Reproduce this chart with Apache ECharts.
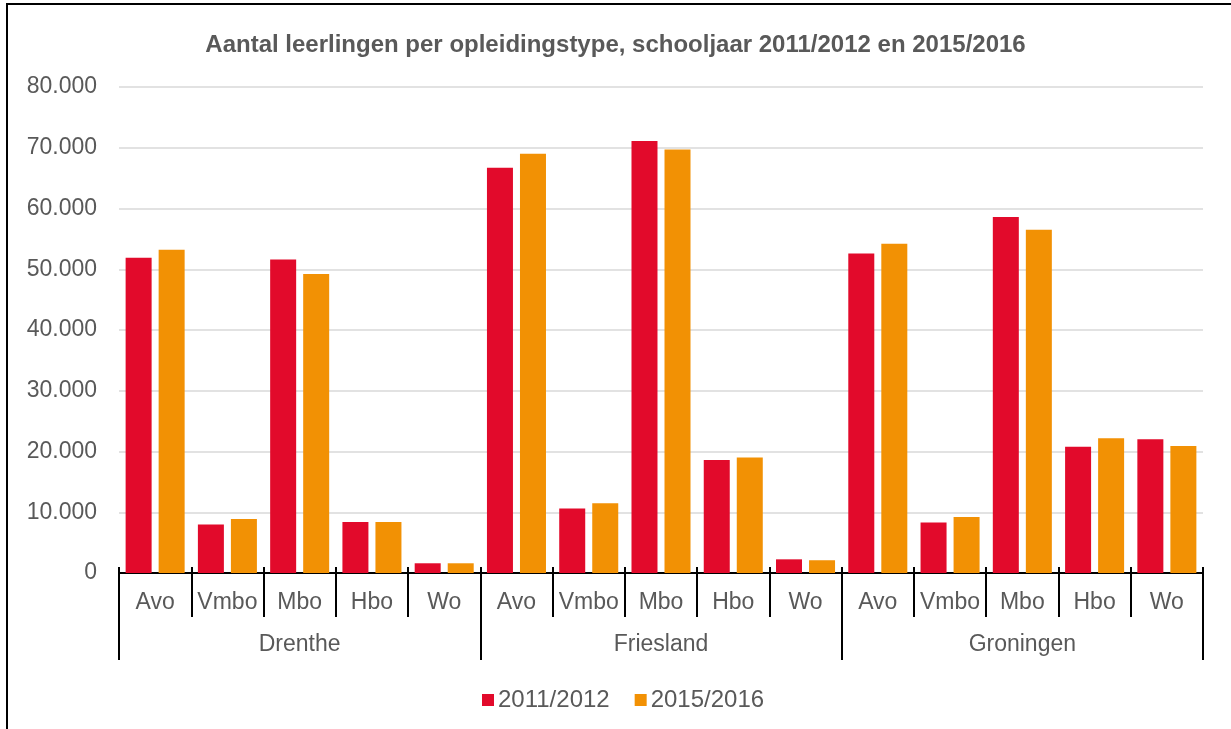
<!DOCTYPE html>
<html>
<head>
<meta charset="utf-8">
<script src="https://cdn.jsdelivr.net/npm/echarts@6/dist/echarts.min.js"></script>
<style>
html,body{margin:0;padding:0;background:#fff;}
#chart{width:1231px;height:729px;position:relative;}
#frame{position:absolute;left:6px;top:3px;width:1240px;height:740px;border-left:2px solid #000;border-top:2px solid #000;pointer-events:none;}
</style>
</head>
<body>
<div id="chart"></div>
<div id="frame"></div>
<script>
const titleText = 'Aantal leerlingen per opleidingstype, schooljaar 2011/2012 en 2015/2016';
const provinces = ['Drenthe', 'Friesland', 'Groningen'];
const types = ['Avo', 'Vmbo', 'Mbo', 'Hbo', 'Wo'];
const seriesNames = ['2011/2012', '2015/2016'];
const values2011 = [51900, 8000, 51600, 8400, 1600, 66700, 10600, 71100, 18600, 2250, 52600, 8300, 58600, 20800, 22000];
const values2015 = [53200, 8900, 49200, 8400, 1600, 69000, 11500, 69700, 19000, 2100, 54200, 9200, 56500, 22200, 20900];

const categories = [];
provinces.forEach(p => types.forEach(t => categories.push(t)));

const font = "'Liberation Sans', Arial, sans-serif";
const txt = '#595959';

const chart = echarts.init(document.getElementById('chart'), null, {renderer: 'canvas'});
chart.setOption({
  animation: false,
  backgroundColor: '#fff',
  textStyle: {fontFamily: font},
  title: {
    text: titleText,
    left: 'center',
    top: 28,
    textStyle: {fontFamily: font, fontSize: 24, fontWeight: 'bold', color: txt}
  },
  legend: {
    data: seriesNames,
    left: 477,
    top: 683,
    itemWidth: 12,
    itemHeight: 12,
    itemGap: 25,
    icon: 'rect',
    textStyle: {fontFamily: font, fontSize: 24, color: txt, padding: [0, 0, 0, -1]}
  },
  grid: {left: 119, right: 28, top: 87, bottom: 156, containLabel: false},
  xAxis: [
    {
      type: 'category',
      data: categories,
      position: 'bottom',
      axisLine: {show: true, lineStyle: {color: '#000', width: 2}},
      axisTick: {show: true, interval: 0, length: 44, lineStyle: {color: '#000', width: 2}},
      axisLabel: {interval: 0, margin: 18, fontSize: 23, color: txt, fontFamily: font},
      splitLine: {show: false}
    },
    {
      type: 'category',
      data: provinces,
      position: 'bottom',
      offset: 0,
      axisLine: {show: false},
      axisTick: {show: true, interval: 0, length: 87, lineStyle: {color: '#000', width: 2}},
      axisLabel: {interval: 0, margin: 60, fontSize: 23, color: txt, fontFamily: font},
      splitLine: {show: false}
    },
    {
      type: 'category',
      data: categories,
      position: 'bottom',
      offset: 0,
      axisLine: {show: false},
      axisTick: {show: true, inside: true, interval: 0, length: 6, lineStyle: {color: '#000', width: 2}},
      axisLabel: {show: false},
      splitLine: {show: false}
    }
  ],
  yAxis: {
    type: 'value',
    min: 0,
    max: 80000,
    interval: 10000,
    axisLine: {show: false},
    axisTick: {show: false},
    axisLabel: {
      margin: 22,
      fontSize: 23,
      color: txt,
      fontFamily: font,
      formatter: v => v === 0 ? '0' : String(v).replace(/\B(?=(\d{3})+(?!\d))/g, '.')
    },
    splitLine: {lineStyle: {color: '#d9d9d9', width: 1.5}}
  },
  series: [
    {
      name: seriesNames[0],
      type: 'bar',
      xAxisIndex: 0,
      data: values2011,
      barWidth: 26,
      barGap: '27%',
      itemStyle: {color: '#E20A2B'}
    },
    {
      name: seriesNames[1],
      type: 'bar',
      xAxisIndex: 0,
      data: values2015,
      barWidth: 26,
      barGap: '27%',
      itemStyle: {color: '#F29104'}
    }
  ]
});
</script>
</body>
</html>
